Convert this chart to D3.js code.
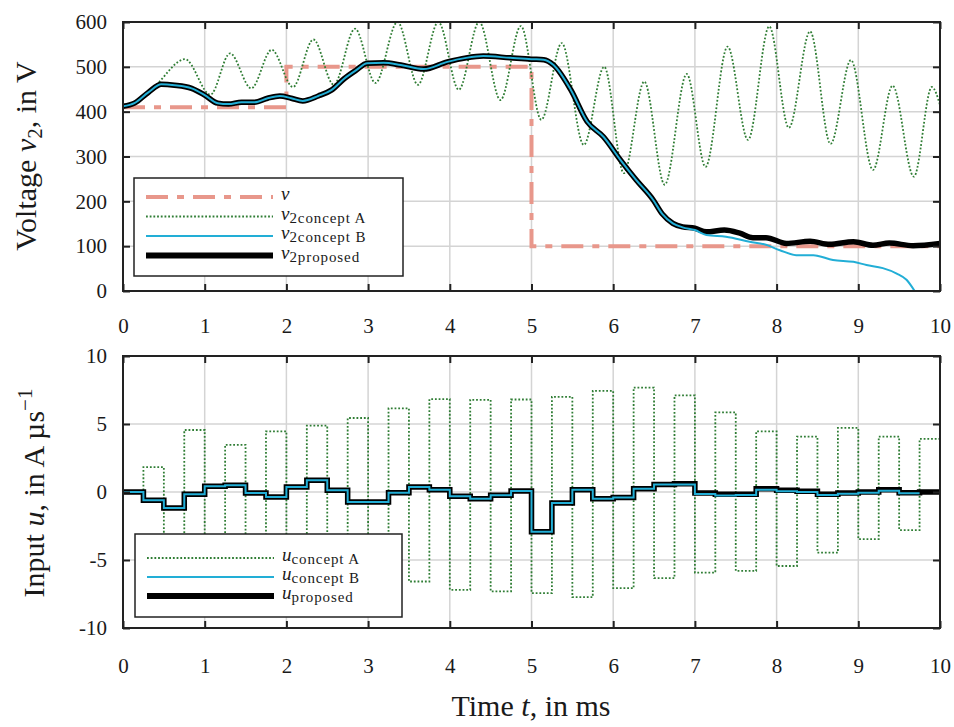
<!DOCTYPE html>
<html><head><meta charset="utf-8">
<script src="https://cdn.jsdelivr.net/npm/d3@7"></script>
<style>
body{margin:0;background:#fff}
svg{display:block}
text{font-family:"Liberation Serif","DejaVu Serif",serif;fill:#1a1a1a}
</style>
</head><body>
<svg id="chart" width="954" height="727"></svg>
<script>
// ---------------- data ----------------
const timeTicks = [0,1,2,3,4,5,6,7,8,9,10];
const voltTicks = [0,100,200,300,400,500,600];
const inputTicks = [-10,-5,0,5,10];

// reference voltage v (step)
const refTime = [0, 2, 5, 10];
const refVolt = [410, 500, 100, 100];

// v2 concept A (oscillating)
const conceptATime = [0,0.15,0.3,0.42,0.76,1.07,1.31,1.57,1.82,2.08,2.33,2.58,2.84,3.09,3.36,3.61,3.86,4.11,4.36,4.62,4.87,5.12,5.37,5.64,5.89,6.13,6.38,6.63,6.9,7.13,7.4,7.65,7.91,8.15,8.41,8.66,8.91,9.18,9.42,9.68,9.9,10];
const conceptAVolt = [412,420,440,462,517,438,530,452,538,455,561,460,585,464,600,460,600,449,600,426,591,382,553,326,500,263,467,237,484,277,545,337,590,364,579,328,515,270,458,255,455,415];

// v2 proposed
const proposedTime = [0,0.14,0.31,0.47,0.63,0.84,1.0,1.16,1.29,1.45,1.61,1.77,1.92,2.06,2.2,2.39,2.55,2.71,2.85,2.99,3.19,3.4,3.68,3.97,4.2,4.41,4.74,5.0,5.15,5.27,5.48,5.68,5.88,6.09,6.28,6.49,6.6,6.73,6.85,7.0,7.14,7.36,7.55,7.71,7.87,8.12,8.41,8.65,8.94,9.18,9.38,9.67,10];
const proposedVolt = [412,419,443,461,459,452,437,419,417,421,421,430,435,430,424,435,448,474,492,508,509,504,495,511,520,524,520,517,516,504,449,378,344,292,248,203,172,151,143,140,132,136,129,119,119,106,111,104,110,102,107,101,106];

// v2 concept B
const conceptBTime = [0,0.14,0.31,0.47,0.63,0.84,1.0,1.16,1.29,1.45,1.61,1.77,1.92,2.06,2.2,2.39,2.55,2.71,2.85,2.99,3.19,3.4,3.68,3.97,4.2,4.41,4.74,5.0,5.15,5.27,5.48,5.68,5.88,6.09,6.28,6.49,6.6,6.73,6.85,7.0,7.14,7.38,7.67,7.87,8.04,8.24,8.45,8.69,8.94,9.1,9.3,9.47,9.59,9.69];
const conceptBVolt = [412,419,443,461,459,452,437,419,417,421,421,430,435,430,424,435,448,474,492,508,509,504,495,511,520,524,520,517,516,504,449,378,344,292,248,203,172,151,142,136,125,121,110,103,91,80,80,69,65,58,51,39,25,0];

// input u, piecewise constant per 0.25 ms sample
const sampleTime = 0.25;
const uConceptA = [0,1.83,-4.5,4.56,-4.0,3.47,-4.5,4.46,-5.0,4.88,-5.5,5.44,-6.0,6.15,-6.58,6.83,-7.19,6.78,-7.3,6.8,-7.43,7.0,-7.73,7.44,-7.07,7.68,-6.34,7.1,-5.93,5.85,-5.8,4.46,-5.44,4.07,-4.46,4.71,-3.46,4.07,-2.8,3.9];
const uConceptB = [0,-0.6,-1.17,-0.17,0.42,0.49,-0.07,-0.37,0.37,0.86,0.12,-0.73,-0.73,-0.05,0.37,0.17,-0.32,-0.49,-0.24,0.07,-2.93,-0.8,0.17,-0.49,-0.41,0.24,0.56,0.55,-0.15,-0.25,-0.22,0.17,0.05,0.0,-0.22,-0.12,-0.05,0.1,-0.1];
const uProposed = [0,-0.6,-1.17,-0.17,0.42,0.49,-0.07,-0.37,0.37,0.86,0.12,-0.73,-0.73,-0.05,0.37,0.17,-0.32,-0.49,-0.24,0.07,-2.93,-0.8,0.17,-0.49,-0.41,0.24,0.56,0.6,-0.07,-0.17,-0.17,0.24,0.12,0.05,-0.17,-0.07,0,0.17,-0.05,0];

// ---------------- styles ----------------
const C = {
  ref: "#e8978b", A: "#2f7d34", B: "#22aed6", P: "#000000",
  grid: "#d4d4d4", frame: "#222222"
};
const dotDash = "1.8,1.9";

const svg = d3.select("#chart");
const L = 123, R = 940;
const x = d3.scaleLinear().domain([0,10]).range([L,R]);
const yTop = d3.scaleLinear().domain([0,600]).range([291,22]);
const yBot = d3.scaleLinear().domain([-10,10]).range([628,356]);

const defs = svg.append("defs");
defs.append("clipPath").attr("id","clipTop").append("rect")
  .attr("x",L).attr("y",yTop(600)).attr("width",R-L).attr("height",yTop(0)-yTop(600));
defs.append("clipPath").attr("id","clipBot").append("rect")
  .attr("x",L).attr("y",yBot(10)).attr("width",R-L).attr("height",yBot(-10)-yBot(10));

function panel(y, yTicks) {
  const g = svg.append("g");
  const [y0,y1] = y.range();
  g.append("g").selectAll("line").data(timeTicks).join("line")
    .attr("x1",d=>x(d)).attr("x2",d=>x(d)).attr("y1",y1).attr("y2",y0)
    .attr("stroke",C.grid).attr("stroke-width",1.5);
  g.append("g").selectAll("line").data(yTicks).join("line")
    .attr("x1",L).attr("x2",R).attr("y1",d=>y(d)).attr("y2",d=>y(d))
    .attr("stroke",C.grid).attr("stroke-width",1.5);
  return g;
}

function axes(y, yTicks, padX) {
  const [y0,y1] = y.range();
  const ax = svg.append("g");
  ax.append("g").attr("transform",`translate(0,${y0})`)
    .call(d3.axisBottom(x).tickValues(timeTicks).tickSizeInner(-7).tickSizeOuter(0).tickPadding(padX).tickFormat(d=>d));
  ax.append("g").attr("transform",`translate(0,${y1})`)
    .call(d3.axisTop(x).tickValues(timeTicks).tickSizeInner(-7).tickSizeOuter(0).tickFormat(""));
  ax.append("g").attr("transform",`translate(${L},0)`)
    .call(d3.axisLeft(y).tickValues(yTicks).tickSizeInner(-7).tickSizeOuter(0).tickPadding(16).tickFormat(d=>String(d)));
  ax.append("g").attr("transform",`translate(${R},0)`)
    .call(d3.axisRight(y).tickValues(yTicks).tickSizeInner(-7).tickSizeOuter(0).tickFormat(""));
  ax.selectAll(".domain").remove();
  ax.selectAll(".tick line").attr("stroke",C.frame).attr("stroke-width",2);
  ax.selectAll(".tick text").attr("font-family","Liberation Serif, serif").attr("font-size",21).attr("fill","#1a1a1a");
  ax.append("rect").attr("x",L).attr("y",y1).attr("width",R-L).attr("height",y0-y1)
    .attr("fill","none").attr("stroke",C.frame).attr("stroke-width",2);
}

const zip = (a,b) => a.map((v,i)=>[v,b[i]]);

// ---------------- top panel ----------------
panel(yTop, voltTicks);
const gTop = svg.append("g").attr("clip-path","url(#clipTop)");
const lineStep = d3.line().x(d=>x(d[0])).y(d=>yTop(d[1])).curve(d3.curveStepAfter);
const lineSmooth = d3.line().x(d=>x(d[0])).y(d=>yTop(d[1])).curve(d3.curveMonotoneX);

gTop.append("path").attr("d", lineStep(zip(refTime, refVolt)))
  .attr("fill","none").attr("stroke",C.ref).attr("stroke-width",4).attr("stroke-dasharray","22,9,7,9");
gTop.append("path").attr("d", lineSmooth(zip(conceptATime, conceptAVolt)))
  .attr("fill","none").attr("stroke",C.A).attr("stroke-width",1.8).attr("stroke-dasharray",dotDash);
gTop.append("path").attr("d", lineSmooth(zip(proposedTime, proposedVolt)))
  .attr("fill","none").attr("stroke",C.P).attr("stroke-width",5.5).attr("stroke-linejoin","round");
gTop.append("path").attr("d", lineSmooth(zip(conceptBTime, conceptBVolt)))
  .attr("fill","none").attr("stroke",C.B).attr("stroke-width",2).attr("stroke-linejoin","round");
axes(yTop, voltTicks, 27);

// ---------------- bottom panel ----------------
panel(yBot, inputTicks);
const gBot = svg.append("g").attr("clip-path","url(#clipBot)");
const uLine = d3.line().x(d=>x(d[0])).y(d=>yBot(d[1])).curve(d3.curveStepAfter);
const steps = arr => { const p = arr.map((v,i)=>[i*sampleTime, v]); p.push([arr.length*sampleTime, arr[arr.length-1]]); return p; };
gBot.append("path").attr("d", uLine(steps(uConceptA)))
  .attr("fill","none").attr("stroke",C.A).attr("stroke-width",1.8).attr("stroke-dasharray",dotDash);
gBot.append("path").attr("d", uLine(steps(uProposed)))
  .attr("fill","none").attr("stroke",C.P).attr("stroke-width",5.5);
gBot.append("path").attr("d", uLine(steps(uConceptB)))
  .attr("fill","none").attr("stroke",C.B).attr("stroke-width",2);
axes(yBot, inputTicks, 30);

// ---------------- legends ----------------
function legend(x0, y0, w, h, rows) {
  const g = svg.append("g");
  g.append("rect").attr("x",x0).attr("y",y0).attr("width",w).attr("height",h)
    .attr("fill","#fff").attr("stroke",C.frame).attr("stroke-width",1.5);
  rows.forEach(r => {
    g.append("line").attr("x1",x0+12).attr("x2",x0+139).attr("y1",r.y).attr("y2",r.y)
      .attr("stroke",r.color).attr("stroke-width",r.width).attr("stroke-dasharray",r.dash||null);
    const t = g.append("text").attr("x",x0+147).attr("y",r.y+3).attr("font-size",19);
    t.append("tspan").attr("font-style","italic").text(r.sym);
    if (r.sub) t.append("tspan").attr("font-size",15).attr("letter-spacing",0.9).attr("dy",3).text(r.sub);
  });
}
legend(134, 178, 269, 98, [
  {y:197, color:C.ref, width:4, dash:"22,9,7,9", sym:"v", sub:null},
  {y:216.5, color:C.A, width:1.8, dash:dotDash, sym:"v", sub:"2concept A"},
  {y:236, color:C.B, width:2, sym:"v", sub:"2concept B"},
  {y:255.5, color:C.P, width:6, sym:"v", sub:"2proposed"}
]);
legend(135, 534, 267, 83, [
  {y:558, color:C.A, width:1.8, dash:dotDash, sym:"u", sub:"concept A"},
  {y:577, color:C.B, width:2, sym:"u", sub:"concept B"},
  {y:596, color:C.P, width:6, sym:"u", sub:"proposed"}
]);

// ---------------- axis titles ----------------
const t1 = svg.append("text").attr("transform","translate(36,156) rotate(-90)")
  .attr("text-anchor","middle").attr("font-size",30);
t1.append("tspan").text("Voltage ");
t1.append("tspan").attr("font-style","italic").text("v");
t1.append("tspan").attr("font-size",21).attr("dy",6).text("2");
t1.append("tspan").attr("dy",-6).text(", in V");

const t2 = svg.append("text").attr("transform","translate(44,493) rotate(-90)")
  .attr("text-anchor","middle").attr("font-size",30);
t2.append("tspan").text("Input ");
t2.append("tspan").attr("font-style","italic").text("u");
t2.append("tspan").text(", in A µs");
t2.append("tspan").attr("font-size",21).attr("dy",-12).text("−1");

const t3 = svg.append("text").attr("x",531).attr("y",716)
  .attr("text-anchor","middle").attr("font-size",30);
t3.append("tspan").text("Time ");
t3.append("tspan").attr("font-style","italic").text("t");
t3.append("tspan").text(", in ms");
</script>
</body></html>
